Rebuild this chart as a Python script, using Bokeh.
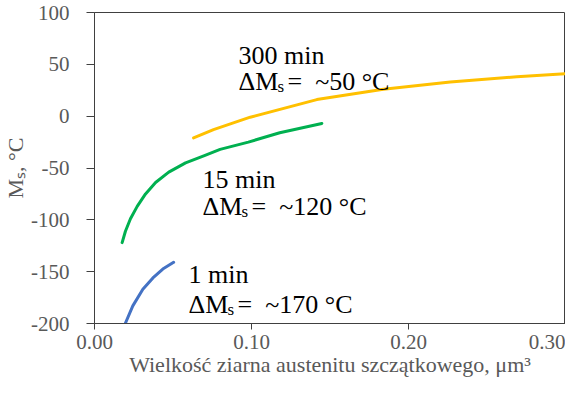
from bokeh.plotting import figure
from bokeh.models import Range1d, FixedTicker, PrintfTickFormatter, ColumnDataSource
from bokeh.core.properties import value
from bokeh.embed import file_html
from bokeh.resources import INLINE

# ---- data ----
blue_x = [0.0196, 0.0244, 0.0308, 0.0372, 0.0435, 0.0504]
blue_y = [-200, -183, -167, -156, -147.5, -141]

green_x = [0.0176, 0.0197, 0.0229, 0.0272, 0.0325, 0.0389, 0.0473, 0.0580, 0.0700,
           0.0800, 0.0980, 0.1180, 0.1448]
green_y = [-122, -111, -99, -87, -75, -64, -54, -45, -38, -32, -25, -16, -7]

yellow_x = [0.0631, 0.0758, 0.0992, 0.1416, 0.1840, 0.2266, 0.2690, 0.2998]
yellow_y = [-21, -13, -1, 16, 26, 33, 38, 41]

x_ticks = [0.0, 0.1, 0.2, 0.3]
y_ticks = [-200, -150, -100, -50, 0, 50, 100]

x_title = "Wielkość ziarna austenitu szczątkowego, μm³"
y_title = "Mₛ, °C"

NB = "\u00a0"
labels_title = ["300 min", "15 min", "1 min"]
labels_value = ["=" + NB + NB + "~50" + NB + "°C", "=" + NB + NB + "~120" + NB + "°C",
                "=" + NB + NB + "~170" + NB + "°C"]
label_x = [0.0917, 0.0688, 0.0599]
label_y1 = [58.8, -60.8, -153.0]
label_y2 = [33.1, -87.4, -182.0]

FONT = "Liberation Serif"
GRAY = "#595959"
AXIS = "#404040"

p = figure(frame_width=471, frame_height=311, output_backend="svg", toolbar_location=None,
           x_range=Range1d(0, 0.30), y_range=Range1d(-200, 100),
           min_border_left=0, min_border_right=0, min_border_top=12, min_border_bottom=0)

p.grid.visible = False
p.background_fill_color = "white"
p.border_fill_color = "white"
p.outline_line_color = AXIS
p.outline_line_width = 1

for ax in (p.xaxis[0], p.yaxis[0]):
    ax.axis_line_color = AXIS
    ax.major_tick_line_color = AXIS
    ax.minor_tick_line_color = None
    ax.major_label_text_font = FONT
    ax.major_label_text_font_size = "21px"
    ax.major_label_text_color = GRAY
    ax.axis_label_text_font = FONT
    ax.axis_label_text_font_size = "22px"
    ax.axis_label_text_color = GRAY
    ax.axis_label_text_font_style = "normal"

p.xaxis.ticker = FixedTicker(ticks=x_ticks)
p.xaxis.formatter = PrintfTickFormatter(format="%.2f")
p.xaxis.major_tick_out = 6
p.xaxis.major_tick_in = 0
p.xaxis.major_label_standoff = 5
p.xaxis.axis_label = x_title
p.xaxis.axis_label_standoff = 0

p.yaxis.ticker = FixedTicker(ticks=y_ticks)
p.yaxis.formatter = PrintfTickFormatter(format="%d")
p.yaxis.major_tick_out = 8
p.yaxis.major_tick_in = 0
p.yaxis.major_label_standoff = 17
p.yaxis.axis_label = y_title
p.yaxis.axis_label_standoff = 0

p.line(yellow_x, yellow_y, line_color="#FFC000", line_width=3, line_cap="round", line_join="round")
p.line(green_x, green_y, line_color="#00B050", line_width=3, line_cap="round", line_join="round")
p.line(blue_x, blue_y, line_color="#4472C4", line_width=3, line_cap="round", line_join="round")

src = ColumnDataSource(dict(x=label_x, y1=label_y1, y2=label_y2,
                            t=labels_title, v=labels_value,
                            d=["ΔM"] * 3, s=["s"] * 3))
common = dict(text_font=value(FONT), text_color="black", text_baseline="alphabetic", text_align="left")
p.text(x="x", y="y1", text="t", source=src, text_font_size="26px", **common)
p.text(x="x", y="y2", text="d", source=src, text_font_size="26px", **common)
p.text(x="x", y="y2", text="s", source=src, text_font_size="17px", x_offset=39, y_offset=5, **common)
p.text(x="x", y="y2", text="v", source=src, text_font_size="26px", x_offset=49, **common)

open("out.html", "w").write(file_html(p, INLINE))
